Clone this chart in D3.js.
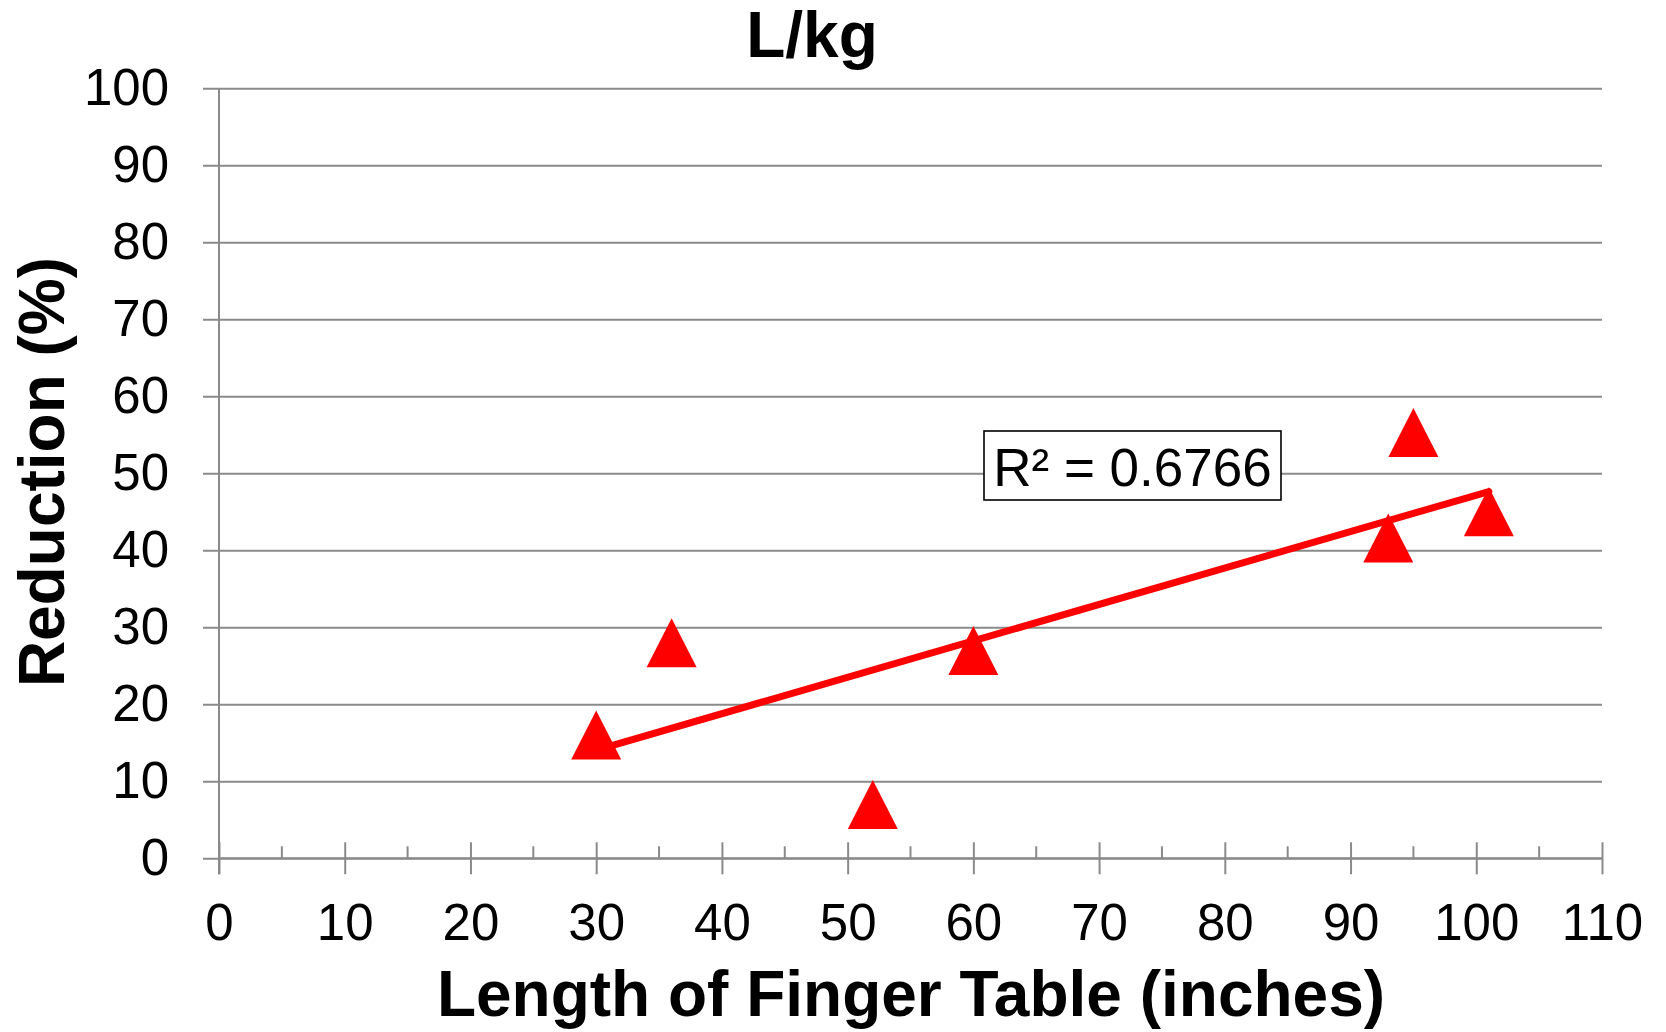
<!DOCTYPE html>
<html>
<head>
<meta charset="utf-8">
<script src="https://cdn.jsdelivr.net/npm/d3@7"></script>
<style>
  html, body { margin: 0; padding: 0; background: #fff; }
  svg { display: block; font-family: "Liberation Sans", Arial, sans-serif; }
</style>
</head>
<body>
<svg id="chart" width="1666" height="1032"></svg>
<script>
// Finger table length vs. reduction (L/kg)
const lengths    = [30, 36, 52, 60, 93, 95, 101];
const reductions = [16, 28, 7, 27, 41.6, 55.3, 45];
const xTicks = [0, 10, 20, 30, 40, 50, 60, 70, 80, 90, 100, 110];
const xMinorTicks = [5, 15, 25, 35, 45, 55, 65, 75, 85, 95, 105];
const yTicks = [0, 10, 20, 30, 40, 50, 60, 70, 80, 90, 100];
const chartTitle = "L/kg";
const xTitle = "Length of Finger Table (inches)";
const yTitle = "Reduction (%)";
const rSquaredLabel = "R\u00B2 = 0.6766";

const svg = d3.select("#chart");
const plotLeft = 219, plotRight = 1602, plotTop = 88.3, plotBottom = 858.3;
const gridColor = "#8a8a8a";

const x = d3.scaleLinear().domain([0, 110]).range([plotLeft, plotRight]);
const y = d3.scaleLinear().domain([0, 100]).range([plotBottom, plotTop]);

// horizontal gridlines with short outward ticks on the left
const yAxis = d3.axisLeft(y).tickValues(yTicks).tickSize(0).tickFormat(d => d);
const gy = svg.append("g").attr("transform", `translate(${plotLeft},0)`).call(yAxis);
gy.select(".domain").remove();
gy.selectAll(".tick line").attr("stroke", gridColor).attr("stroke-width", 2)
  .attr("x1", -16).attr("x2", plotRight - plotLeft);
gy.selectAll(".tick text")
  .attr("x", -50).attr("dy", "0.32em")
  .attr("text-anchor", "end").attr("font-size", 51).attr("fill", "#000")
  .attr("font-family", "Liberation Sans, Arial, sans-serif");

// vertical axis line
svg.append("line").attr("x1", plotLeft).attr("x2", plotLeft).attr("y1", plotTop).attr("y2", plotBottom + 16)
  .attr("stroke", gridColor).attr("stroke-width", 2);

// horizontal axis with crossing major ticks and inner minor ticks
const xAxis = d3.axisBottom(x).tickValues(xTicks).tickSize(16).tickFormat(d => d);
const gx = svg.append("g").attr("transform", `translate(0,${plotBottom})`).call(xAxis);
gx.select(".domain").attr("stroke", gridColor).attr("stroke-width", 2).attr("d", `M${plotLeft},0H${plotRight}`);
gx.selectAll(".tick line").attr("stroke", gridColor).attr("stroke-width", 2).attr("y1", -16).attr("y2", 16);
gx.selectAll(".tick text")
  .attr("y", 82).attr("dy", null)
  .attr("font-size", 51).attr("fill", "#000")
  .attr("font-family", "Liberation Sans, Arial, sans-serif");
gx.selectAll(".minor").data(xMinorTicks).join("line").attr("class", "minor")
  .attr("x1", d => x(d)).attr("x2", d => x(d)).attr("y1", -12).attr("y2", 0)
  .attr("stroke", gridColor).attr("stroke-width", 2);

// linear least-squares trendline over the data range
const n = lengths.length;
const mx = d3.mean(lengths), my = d3.mean(reductions);
let sxy = 0, sxx = 0;
for (let i = 0; i < n; i++) {
  sxy += (lengths[i] - mx) * (reductions[i] - my);
  sxx += (lengths[i] - mx) ** 2;
}
const slope = sxy / sxx, intercept = my - slope * mx;
const xr = d3.extent(lengths);
svg.append("line")
  .attr("x1", x(xr[0])).attr("y1", y(intercept + slope * xr[0]))
  .attr("x2", x(xr[1])).attr("y2", y(intercept + slope * xr[1]))
  .attr("stroke", "#ff0000").attr("stroke-width", 7).attr("stroke-linecap", "round");

// triangle markers
const triW = 50, triH = 49;
svg.append("g").selectAll("path").data(lengths.map((d, i) => [d, reductions[i]])).join("path")
  .attr("d", `M0,${-triH / 2}L${triW / 2},${triH / 2}L${-triW / 2},${triH / 2}Z`)
  .attr("transform", d => `translate(${x(d[0])},${y(d[1])})`)
  .attr("fill", "#ff0000");

// R-squared label box
const rg = svg.append("g");
rg.append("rect").attr("x", 984).attr("y", 431).attr("width", 297).attr("height", 69)
  .attr("fill", "#fff").attr("stroke", "#000").attr("stroke-width", 1.6);
rg.append("text").attr("x", 1132.5).attr("y", 486).attr("text-anchor", "middle")
  .attr("font-size", 53).attr("fill", "#000").text(rSquaredLabel);

// titles
svg.append("text").attr("x", 812).attr("y", 57).attr("text-anchor", "middle")
  .attr("font-size", 64).attr("font-weight", "bold").attr("fill", "#000").text(chartTitle);
svg.append("text").attr("x", 911).attr("y", 1016).attr("text-anchor", "middle")
  .attr("font-size", 64).attr("font-weight", "bold").attr("fill", "#000").text(xTitle);
svg.append("text").attr("transform", "translate(64,472) rotate(-90)").attr("text-anchor", "middle")
  .attr("font-size", 64).attr("font-weight", "bold").attr("fill", "#000").text(yTitle);
</script>
</body>
</html>
